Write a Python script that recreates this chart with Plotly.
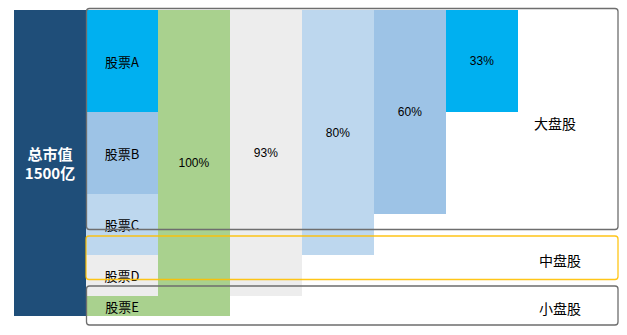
import plotly.graph_objects as go

# ---------------- data ----------------
stocks = ["股票A", "股票B", "股票C", "股票D", "股票E"]
stock_values = [500, 400, 300, 200, 100]          # 亿, read from the stacked column
stock_colors = ["#00B0F0", "#9DC3E6", "#BDD7EE", "#EDEDED", "#A9D18E"]
total_label = "总市值<br>1500亿"
total_value = 1500
groups = ["大盘股", "中盘股", "小盘股"]

# cumulative columns as drawn in the picture (heights) and their labels
cum_values = [1500, 1400, 1200, 1000, 500]
cum_labels = ["100%", "93%", "80%", "60%", "33%"]
cum_colors = ["#A9D18E", "#EDEDED", "#BDD7EE", "#9DC3E6", "#00B0F0"]

W, H = 627, 335
FONT = "Noto Sans CJK SC"

fig = go.Figure()

# total market value column (position 0)
fig.add_trace(go.Bar(
    x=[0], y=[total_value], base=[0], width=1,
    marker=dict(color="#1F4E79", line=dict(width=0)),
    text=[total_label], textposition="inside", insidetextanchor="middle",
    textfont=dict(color="white", size=15, family=FONT, weight="bold"),
    constraintext="none", hoverinfo="skip", showlegend=False,
))

# stacked stocks column (position 1)
base = 0
for name, v, c in zip(stocks, stock_values, stock_colors):
    fig.add_trace(go.Bar(
        x=[1], y=[v], base=[base], width=1,
        marker=dict(color=c, line=dict(width=0)),
        text=[name], textposition="inside", insidetextanchor="middle",
        textfont=dict(color="black", size=13, family=FONT),
        constraintext="none", hoverinfo="skip", showlegend=False,
    ))
    base += v

# cumulative columns (positions 2..6)
fig.add_trace(go.Bar(
    x=list(range(2, 2 + len(cum_values))), y=cum_values,
    base=[0] * len(cum_values), width=1,
    marker=dict(color=cum_colors, line=dict(width=0)),
    text=cum_labels, textposition="inside", insidetextanchor="middle",
    textfont=dict(color="black", size=12, family="Liberation Sans"),
    constraintext="none", hoverinfo="skip", showlegend=False,
))

# pixel -> axis mapping (column i spans 14+72i .. 86+72i, value 0 at y=10, 1500 at y=316)
px_per_col = 72.0
x0_px = 50.0
y_scale = (316 - 10) / total_value
x_range = [(0 - x0_px) / px_per_col, (W - x0_px) / px_per_col]
y_range = [(H - 10) / y_scale, (0 - 10) / y_scale]


def rounded_box(x0, y0, x1, y1, r=3):
    def px(x):
        return x / W

    def py(y):
        return 1 - y / H
    pts = [
        f"M {px(x0 + r)},{py(y0)}",
        f"L {px(x1 - r)},{py(y0)}",
        f"Q {px(x1)},{py(y0)} {px(x1)},{py(y0 + r)}",
        f"L {px(x1)},{py(y1 - r)}",
        f"Q {px(x1)},{py(y1)} {px(x1 - r)},{py(y1)}",
        f"L {px(x0 + r)},{py(y1)}",
        f"Q {px(x0)},{py(y1)} {px(x0)},{py(y1 - r)}",
        f"L {px(x0)},{py(y0 + r)}",
        f"Q {px(x0)},{py(y0)} {px(x0 + r)},{py(y0)} Z",
    ]
    return " ".join(pts)


boxes = [
    (86.5, 8.5, 618, 229.5, "#6E6E6E"),
    (86, 236, 618, 279.5, "#FFC000"),
    (86.5, 286, 618, 325, "#6E6E6E"),
]
label_pos = [(555, 123), (560, 260), (560, 308)]

shapes = []
annotations = []
for (bx0, by0, bx1, by1, col), g, (lx, ly) in zip(boxes, groups, label_pos):
    shapes.append(dict(
        type="path", xref="paper", yref="paper",
        path=rounded_box(bx0, by0, bx1, by1),
        line=dict(color=col, width=1.3),
        opacity=0.9 if col == "#FFC000" else 1,
        fillcolor="rgba(0,0,0,0)", layer="above",
    ))
    annotations.append(dict(
        x=lx / W, y=1 - ly / H, xref="paper", yref="paper",
        text=g, showarrow=False, xanchor="center", yanchor="middle",
        font=dict(size=14, color="black", family=FONT),
    ))

fig.update_layout(
    width=W, height=H,
    margin=dict(l=0, r=0, t=0, b=0),
    paper_bgcolor="white", plot_bgcolor="white",
    barmode="overlay", bargap=0,
    xaxis=dict(range=x_range, visible=False, fixedrange=True),
    yaxis=dict(range=y_range, visible=False, fixedrange=True),
    shapes=shapes, annotations=annotations,
    showlegend=False,
)

fig.write_html("out.html")
